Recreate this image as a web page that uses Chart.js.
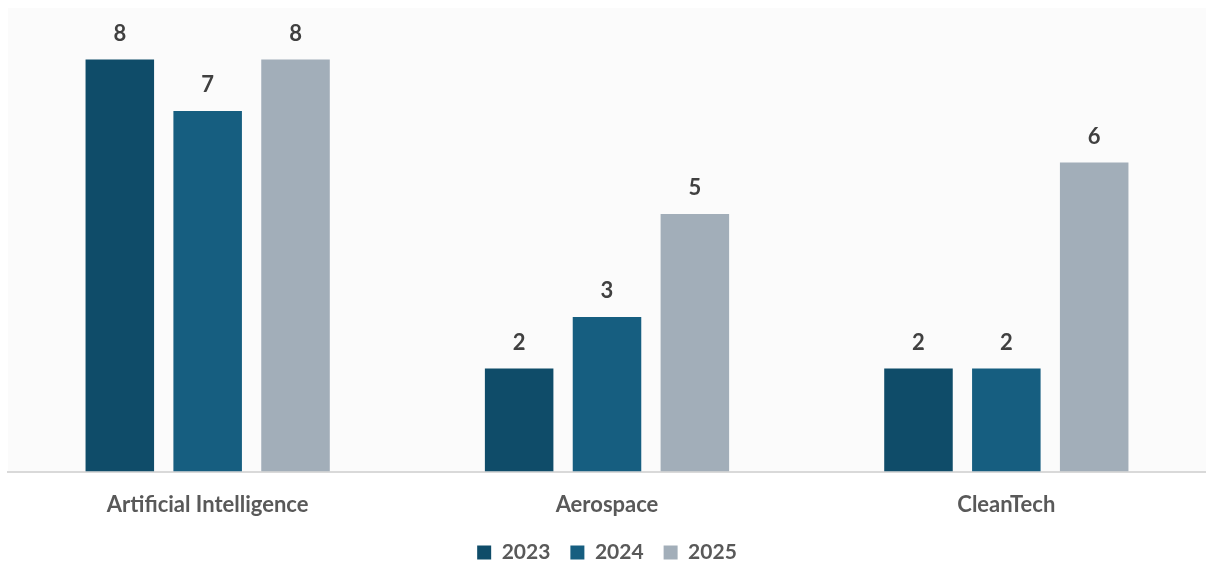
<!DOCTYPE html>
<html>
<head>
<meta charset="utf-8">
<script src="https://cdn.jsdelivr.net/npm/chart.js@4.4.0/dist/chart.umd.min.js"></script>
<style>
  html, body { margin: 0; padding: 0; background: #ffffff; }
  #wrap { width: 1206px; height: 563px; position: relative; }
</style>
</head>
<body>
<div id="wrap"><canvas id="sectorChart"></canvas></div>
<script>
// Sector counts by year
const categories = ['Artificial Intelligence', 'Aerospace', 'CleanTech'];
const years = ['2023', '2024', '2025'];
const values2023 = [8, 2, 2];
const values2024 = [7, 3, 2];
const values2025 = [8, 5, 6];
const colors = ['#0f4c69', '#165e80', '#a2aeb9'];

const FONT = 'Lato, "Open Sans", sans-serif';

// faint panel behind the bars
const panelBg = {
    id: 'panelBg',
    beforeDraw(chart) {
        const { ctx, chartArea } = chart;
        ctx.save();
        ctx.fillStyle = '#fbfbfb';
        ctx.fillRect(chartArea.left, chartArea.top, chartArea.right - chartArea.left, chartArea.bottom - chartArea.top);
        ctx.restore();
    }
};

// value labels above each bar
const valueLabels = {
    id: 'valueLabels',
    afterDatasetsDraw(chart) {
        const ctx = chart.ctx;
        ctx.save();
        ctx.font = 'bold 22px ' + FONT;
        ctx.fillStyle = '#404040';
        ctx.textAlign = 'center';
        ctx.textBaseline = 'alphabetic';
        chart.data.datasets.forEach((ds, i) => {
            chart.getDatasetMeta(i).data.forEach((bar, j) => {
                ctx.fillText(ds.data[j], bar.x, bar.y - 19);
            });
        });
        ctx.restore();
    }
};

document.addEventListener('DOMContentLoaded', function() {
    const canvas = document.getElementById('sectorChart');
    new Chart(canvas.getContext('2d'), {
        type: 'bar',
        data: {
            labels: categories,
            datasets: [
                { label: years[0], data: values2023, backgroundColor: colors[0] },
                { label: years[1], data: values2024, backgroundColor: colors[1] },
                { label: years[2], data: values2025, backgroundColor: colors[2] }
            ]
        },
        options: {
            responsive: true,
            maintainAspectRatio: false,
            animation: false,
            categoryPercentage: 0.66,
            barPercentage: 0.78,
            layout: { padding: { top: 8, left: 8, right: 0, bottom: -10 } },
            scales: {
                x: {
                    grid: { display: false },
                    border: { display: true, color: '#d9d9d9', width: 2 },
                    ticks: {
                        color: '#595959',
                        padding: 12,
                        font: { family: FONT, size: 22, weight: 'bold' }
                    },
                    afterFit(scale) {
                        scale.height -= 8;
                    }
                },
                y: {
                    display: false,
                    min: 0,
                    max: 9
                }
            },
            plugins: {
                legend: {
                    position: 'bottom',
                    labels: {
                        boxWidth: 14,
                        boxHeight: 14,
                        padding: 20,
                        color: '#595959',
                        font: { family: FONT, size: 21, weight: 'bold' }
                    }
                },
                tooltip: { enabled: false }
            }
        },
        plugins: [panelBg, valueLabels]
    });
});
</script>
</body>
</html>
